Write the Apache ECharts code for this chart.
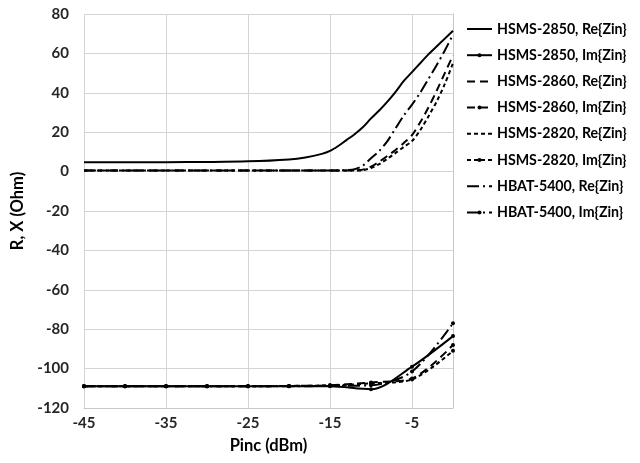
<!DOCTYPE html>
<html>
<head>
<meta charset="utf-8">
<script src="https://cdn.jsdelivr.net/npm/echarts@6/dist/echarts.min.js"></script>
<style>
html,body{margin:0;padding:0;background:#fff;}
#chart{width:640px;height:463px;}
</style>
</head>
<body>
<div id="chart"></div>
<script>
// ---- data ----
const seriesNames = [
  'HSMS-2850, Re{Zin}', 'HSMS-2850, Im{Zin}',
  'HSMS-2860, Re{Zin}', 'HSMS-2860, Im{Zin}',
  'HSMS-2820, Re{Zin}', 'HSMS-2820, Im{Zin}',
  'HBAT-5400, Re{Zin}', 'HBAT-5400, Im{Zin}'
];
const xRe = [-45,-40,-35,-30,-25,-20,-18,-16,-15,-14,-13,-12,-11,-10,-9,-8,-7,-6,-5,-4,-3,-2,-1,0];
const re2850 = [4.8,4.8,4.8,4.9,5.2,6.2,7.2,9,10.5,13,16,19,22.5,27,31,35.5,40.5,46,50.5,55,59.5,63.5,67.5,71.5];
const re2860 = [0.5,0.5,0.5,0.5,0.5,0.5,0.5,0.5,0.5,0.5,0.5,0.6,1,2.5,5,8,11,14.5,18.5,25,32.5,41,50,59];
const re2820 = [0.5,0.5,0.5,0.5,0.5,0.5,0.5,0.5,0.5,0.5,0.5,0.5,0.7,1.8,3.8,6.5,9.5,12.5,15.5,21,28,35.5,44.5,55];
const re5400 = [0.5,0.5,0.5,0.5,0.5,0.5,0.5,0.5,0.5,0.6,0.8,1.2,3,6.8,10.5,15.5,22,28.5,34,40,47,54,61.5,69.5];

const xIm = [-45,-40,-35,-30,-25,-20,-15,-10,-5,0];
const im2850 = [-109,-109,-109,-109,-109,-109,-109,-110.5,-99,-83.5];
const im2860 = [-109,-109,-109,-109,-109,-108.8,-108.5,-107,-105,-88];
const im2820 = [-109,-109,-109,-109,-109,-108.8,-108.5,-107.5,-105.5,-91];
const im5400 = [-109,-109,-109,-109,-109,-109,-108.8,-108.5,-101.5,-77];

const xLabels = [-45,-35,-25,-15,-5];
const xGrid = [-45,-35,-25,-15,-5,0];

// ---- build ----
function pairs(xs, ys){ return xs.map((x,i)=>[x, ys[i]]); }
const styles = [
  {d: pairs(xRe, re2850), t: 'solid', sym: false},
  {d: pairs(xIm, im2850), t: 'solid', sym: true},
  {d: pairs(xRe, re2860), t: [8,5], sym: false},
  {d: pairs(xIm, im2860), t: [8,5], sym: true},
  {d: pairs(xRe, re2820), t: [4,3], sym: false},
  {d: pairs(xIm, im2820), t: [4,3], sym: true},
  {d: pairs(xRe, re5400), t: [12,4,2,4], sym: false},
  {d: pairs(xIm, im5400), t: [12,4,2,4], sym: true}
];
const series = styles.map((s, i) => ({
  name: seriesNames[i],
  type: 'line',
  data: s.d,
  smooth: 0.3,
  showSymbol: s.sym,
  symbol: s.sym ? 'circle' : 'none',
  symbolSize: 4,
  itemStyle: {color: '#000'},
  lineStyle: {color: '#000', width: 2, type: s.t},
  animation: false
}));

const legendData = seriesNames.map((n, i) => (
  styles[i].sym ? {name: n} : {name: n, itemStyle: {opacity: 0}}
));

const font = 'Lato, "Open Sans", sans-serif';
const chart = echarts.init(document.getElementById('chart'), null, {renderer: 'canvas'});
chart.setOption({
  backgroundColor: '#fff',
  animation: false,
  grid: {left: 84, right: 187, top: 14, bottom: 55},
  legend: {
    orient: 'vertical',
    left: 461, top: 15,
    itemWidth: 25, itemHeight: 5, itemGap: 8.2,
    textStyle: {fontFamily: font, fontWeight: 'bold', fontSize: 14.2, color: '#000', lineHeight: 18},
    data: legendData
  },
  xAxis: {
    type: 'value', min: -45, max: 0,
    name: 'Pinc (dBm)', nameLocation: 'middle', nameGap: 29,
    nameTextStyle: {fontFamily: font, fontWeight: 'bold', fontSize: 16.5, color: '#000'},
    axisLine: {show: true, onZero: false, lineStyle: {color: '#c8c8c8'}},
    axisTick: {show: false, customValues: xGrid},
    axisLabel: {customValues: xLabels, margin: 8, fontFamily: font, fontWeight: 'bold', fontSize: 15, color: '#262626'},
    splitLine: {show: true, lineStyle: {color: '#d4d4d4'}}
  },
  yAxis: {
    type: 'value', min: -120, max: 80, interval: 20,
    name: 'R, X (Ohm)', nameLocation: 'middle', nameGap: 53,
    nameTextStyle: {fontFamily: font, fontWeight: 'bold', fontSize: 16.5, color: '#000'},
    axisLine: {show: true, lineStyle: {color: '#c8c8c8'}},
    axisTick: {show: false},
    axisLabel: {margin: 15, fontFamily: font, fontWeight: 'bold', fontSize: 15, color: '#262626'},
    splitLine: {show: true, lineStyle: {color: '#d4d4d4'}}
  },
  series: series
});
</script>
</body>
</html>
